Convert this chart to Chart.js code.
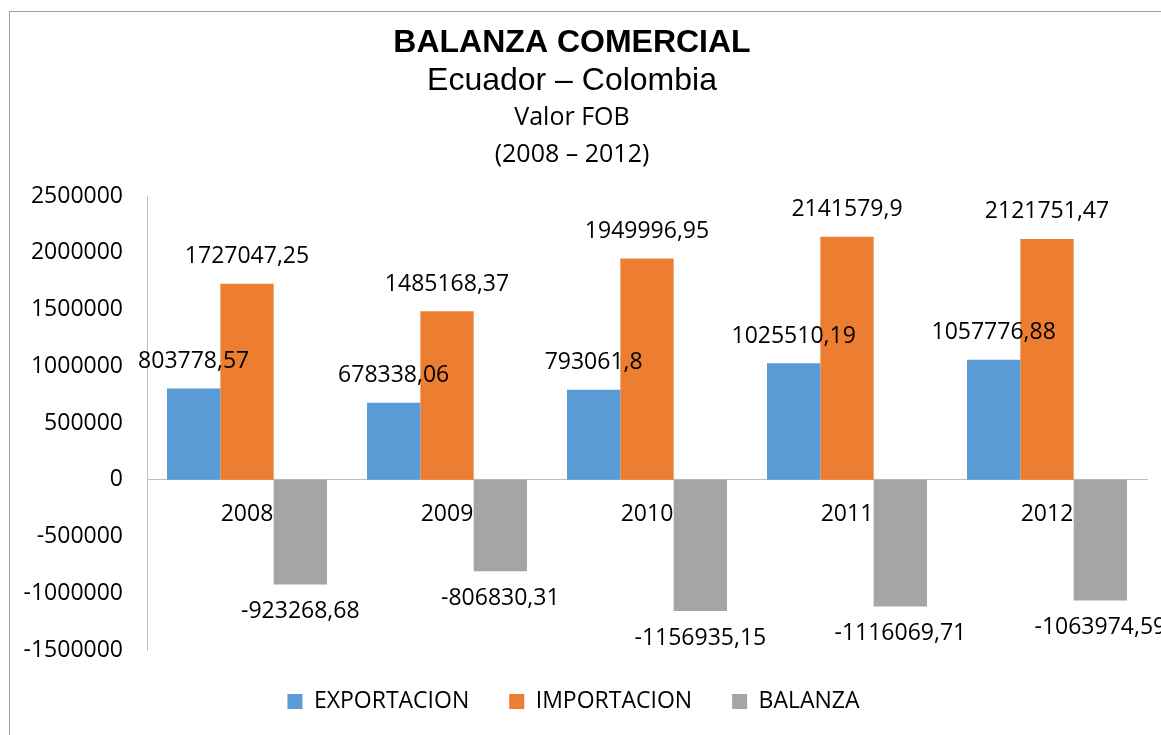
<!DOCTYPE html>
<html>
<head>
<meta charset="utf-8">
<script src="https://cdn.jsdelivr.net/npm/chart.js@4.4.0/dist/chart.umd.min.js"></script>
<style>
  html, body { margin: 0; padding: 0; background: #ffffff; }
  #wrap { width: 1161px; height: 735px; position: relative; }
</style>
</head>
<body>
<div id="wrap"><canvas id="balanzaChart"></canvas></div>
<script>
// Data
const years = ["2008", "2009", "2010", "2011", "2012"];
const exportacion = [803778.57, 678338.06, 793061.8, 1025510.19, 1057776.88];
const importacion = [1727047.25, 1485168.37, 1949996.95, 2141579.9, 2121751.47];
const balanza = [-923268.68, -806830.31, -1156935.15, -1116069.71, -1063974.59];
const yTicks = [2500000, 2000000, 1500000, 1000000, 500000, 0, -500000, -1000000, -1500000];

const titleLines = [
    { text: "BALANZA COMERCIAL", font: "bold 32px 'Liberation Sans', Arial", y: 43 },
    { text: "Ecuador – Colombia", font: "32px 'Liberation Sans', Arial", y: 81 },
    { text: "Valor FOB", font: "25px 'Open Sans'", y: 118 },
    { text: "(2008 – 2012)", font: "25px 'Open Sans'", y: 155 }
];

// outer frame + title lines
const framePlugin = {
    id: 'frameTitle',
    beforeDraw(chart) {
        const ctx = chart.ctx;
        ctx.save();
        ctx.strokeStyle = '#aaa383';
        ctx.lineWidth = 1;
        ctx.strokeRect(9.5, 11.5, 2000, 2000);
        ctx.fillStyle = '#000000';
        ctx.textAlign = 'center';
        ctx.textBaseline = 'middle';
        titleLines.forEach(function(t) {
            ctx.font = t.font;
            ctx.fillText(t.text, 572, t.y);
        });
        ctx.restore();
    }
};

// value labels at the end of each bar
const valueLabels = {
    id: 'valueLabels',
    afterDatasetsDraw(chart) {
        const ctx = chart.ctx;
        ctx.save();
        ctx.font = "23px 'Open Sans'";
        ctx.fillStyle = '#000000';
        ctx.textAlign = 'center';
        ctx.textBaseline = 'middle';
        chart.data.datasets.forEach(function(ds, i) {
            chart.getDatasetMeta(i).data.forEach(function(bar, j) {
                const v = ds.data[j];
                const txt = String(v).replace('.', ',');
                const y = v >= 0 ? bar.y - 27 : bar.y + 27;
                ctx.fillText(txt, bar.x, y);
            });
        });
        ctx.restore();
    }
};

const ctx = document.getElementById('balanzaChart').getContext('2d');
new Chart(ctx, {
    type: 'bar',
    data: {
        labels: years,
        datasets: [
            { label: 'EXPORTACION', data: exportacion, backgroundColor: '#5b9bd5' },
            { label: 'IMPORTACION', data: importacion, backgroundColor: '#ed7d31' },
            { label: 'BALANZA', data: balanza, backgroundColor: '#a5a5a5' }
        ]
    },
    options: {
        responsive: true,
        maintainAspectRatio: false,
        animation: false,
        layout: { padding: { top: 196, left: 0, right: 14, bottom: 12 } },
        datasets: {
            bar: { categoryPercentage: 0.8, barPercentage: 1.0 }
        },
        scales: {
            x: {
                position: { y: 0 },
                grid: { display: false },
                border: { display: true, color: '#bfbfbf', width: 1 },
                ticks: { color: '#000000', font: { family: 'Open Sans', size: 23 }, padding: 13 }
            },
            y: {
                min: -1500000,
                max: 2500000,
                afterFit(scale) { scale.width = 147; },
                afterBuildTicks(scale) { scale.ticks = yTicks.map(function(v) { return { value: v }; }); },
                grid: { display: false },
                border: { display: true, color: '#bfbfbf', width: 1 },
                ticks: {
                    color: '#000000',
                    font: { family: 'Open Sans', size: 23 },
                    padding: 16,
                    callback: function(v) { return String(v); }
                }
            }
        },
        plugins: {
            title: { display: false },
            tooltip: { enabled: false },
            legend: {
                position: 'bottom',
                labels: {
                    boxWidth: 15,
                    boxHeight: 15,
                    padding: 40,
                    color: '#000000',
                    font: { family: 'Open Sans', size: 23 }
                }
            }
        }
    },
    plugins: [framePlugin, valueLabels]
});
</script>
</body>
</html>
